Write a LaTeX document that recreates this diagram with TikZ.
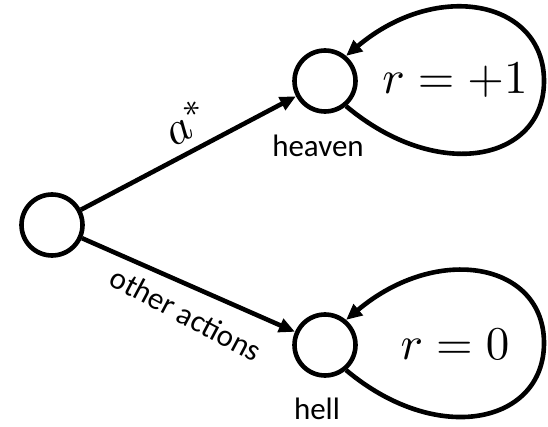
\documentclass[tikz,border=0pt]{standalone}
\usepackage{fontspec}
\newfontfamily\calibri{Carlito}
\usepackage{graphicx}
\usepackage{tikz}
\usetikzlibrary{arrows.meta, positioning}
\newcommand{\bigmath}[1]{\scalebox{4.7}{$#1$}}

\begin{document}
\begin{tikzpicture}[
  x=1pt, y=1pt,
  state/.style={draw, circle, line width=4.6pt, minimum size=61pt, inner sep=0pt},
  link/.style={line width=4.6pt, -{Triangle[length=16pt, width=14pt]}},
  wordlbl/.style={font=\calibri\fontsize{31}{34}\selectfont}
]
  \useasboundingbox (0,0) rectangle (548,426);

  % states
  \node[state] (start) at (52, 201) {};
  \node[state] (heaven) at (325, 345) {};
  \node[state] (hell) at (325, 81) {};

  % transitions
  \draw[link] (start) -- (heaven);
  \draw[link] (start) -- (hell);
  \node[rotate=30] (astar) at (187, 304) {\bigmath{a^*}};
  \node[wordlbl, rotate=-28] (other) at (186, 112) {other actions};

  % self loops with rewards
  \coordinate (heavenfar) at (544, 345);
  \coordinate (hellfar) at (544, 83);
  \draw[link] (heaven.-50) .. controls +(-40:120) and +(-90:80) .. (heavenfar)
    .. controls +(90:80) and +(40:120) .. (heaven.50);
  \draw[link] (hell.-50) .. controls +(-40:120) and +(-90:80) .. (hellfar)
    .. controls +(90:80) and +(40:120) .. (hell.50);
  \node (rheaven) at (455, 346) {\bigmath{r=+1}};
  \node (rhell) at (455, 82) {\bigmath{r=0}};

  % state names
  \node[wordlbl] (heavenname) at (318, 280) {heaven};
  \node[wordlbl] (hellname) at (317, 17) {hell};
\end{tikzpicture}
\end{document}
